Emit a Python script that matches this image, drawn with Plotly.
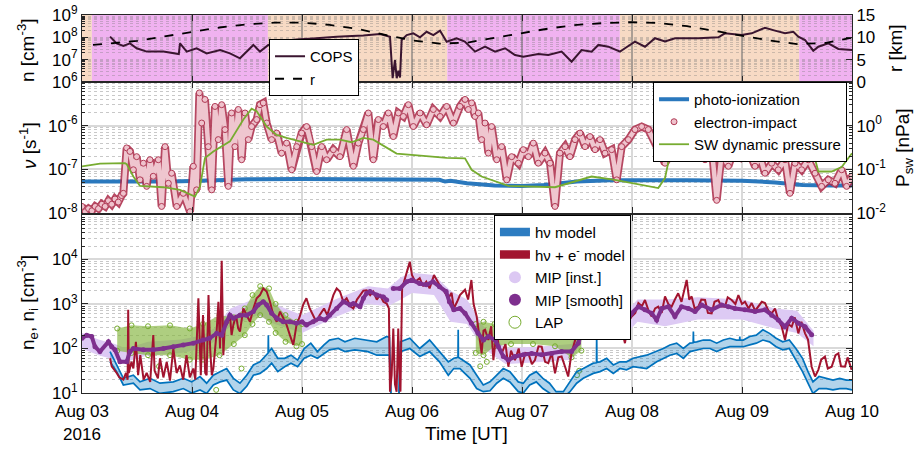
import numpy as np
import plotly.graph_objects as go

FONT = "Liberation Sans, Arial, sans-serif"

# ---------------- time axis (days since 2016-08-03 00:00 UT) ----------------
day_ticks = [0, 1, 2, 3, 4, 5, 6, 7]
day_labels = ["Aug 03<br>2016", "Aug 04", "Aug 05", "Aug 06", "Aug 07", "Aug 08", "Aug 09", "Aug 10"]

# ---------------- top panel: COPS density and distance ----------------
band_edges = [0, 0.09, 1.69, 3.32, 4.89, 6.52, 7.0]
band_kind = ["peach", "pink", "peach", "pink", "peach", "pink"]

cops_t = [0.255, 0.315, 0.376, 0.436, 0.497, 0.588, 0.739, 0.861, 0.88, 0.891, 0.952, 1.042, 1.133, 1.255,
          1.345, 1.436, 1.497, 1.558, 1.618, 1.694, 1.8, 1.95, 2.1, 2.2, 2.315, 2.406, 2.558, 2.709, 2.8,
          2.824, 2.845, 2.861, 2.876, 2.891, 2.906, 2.952, 3.012, 3.073, 3.133, 3.194, 3.255, 3.315, 3.406,
          3.48, 3.573, 3.664, 3.755, 3.846, 3.936, 4.012, 4.148, 4.239, 4.36, 4.451, 4.542, 4.633, 4.694,
          4.785, 4.891, 4.936, 5.027, 5.118, 5.209, 5.3, 5.391, 5.603, 5.785, 5.845, 5.997, 6.088, 6.209,
          6.3, 6.391, 6.467, 6.512, 6.573, 6.648, 6.694, 6.785, 6.876, 6.967, 7.0]
cops_log = [8.03, 7.73, 7.61, 7.73, 7.51, 7.36, 7.36, 7.28, 7.25, 7.73, 7.36, 7.51, 7.28, 7.43,
            7.28, 7.06, 7.36, 7.66, 7.36, 7.66, 7.8, 7.9, 7.95, 8.0, 8.03, 8.05, 8.08, 8.15, 8.03,
            6.17, 6.98, 6.17, 6.5, 6.2, 7.88, 8.1, 8.18, 8.0, 8.25, 8.1, 8.3, 7.8, 7.96,
            7.81, 7.36, 7.58, 7.36, 7.51, 7.21, 7.13, 7.25, 7.21, 7.36, 6.91, 7.43, 7.36, 7.66,
            7.58, 7.36, 7.51, 7.81, 7.58, 7.96, 7.81, 7.96, 7.96, 8.0, 8.18, 8.10, 8.18, 8.43,
            8.30, 8.18, 8.25, 8.03, 7.88, 7.40, 7.58, 7.73, 7.48, 7.43, 7.43]

r_t = [0.1, 0.25, 0.5, 0.75, 1.0, 1.25, 1.5, 1.75, 2.0, 2.25, 2.5, 2.75, 3.0, 3.25, 3.5, 3.75, 4.0,
       4.25, 4.5, 4.75, 5.0, 5.25, 5.5, 5.75, 6.0, 6.25, 6.5, 6.75, 7.0]
r_km = [8.3, 8.6, 9.2, 10.2, 11.2, 12.2, 12.9, 13.3, 13.3, 12.8, 11.9, 10.6, 9.3, 8.6, 8.8, 9.9, 11.0,
        12.0, 12.8, 13.2, 13.4, 13.2, 12.5, 11.4, 10.3, 9.3, 8.5, 8.7, 9.9]

# ---------------- middle panel: ionization frequencies and SW pressure ----------------
photo_t = [0, 0.6, 0.62, 0.8, 1.0, 1.3, 1.5, 2.0, 2.5, 3.0, 3.25, 3.3, 3.35, 3.5, 3.75, 4.0, 4.2, 4.5,
           4.8, 5.5, 6.0, 6.3, 6.55, 6.8, 7.0]
photo_log = [-7.28, -7.28, -7.30, -7.28, -7.27, -7.25, -7.23, -7.22, -7.22, -7.22, -7.24, -7.28, -7.26,
             -7.32, -7.37, -7.38, -7.36, -7.28, -7.25, -7.25, -7.26, -7.30, -7.36, -7.37, -7.37]

ei_t = [0, 0.03, 0.06, 0.09, 0.12, 0.15, 0.18, 0.21, 0.24, 0.27, 0.3, 0.33, 0.36, 0.376, 0.406, 0.436,
        0.467, 0.497, 0.527, 0.558, 0.588, 0.618, 0.648, 0.694, 0.724, 0.755, 0.785, 0.815, 0.861, 0.921,
        0.982, 1.012, 1.042, 1.067, 1.088, 1.118, 1.148, 1.179, 1.209, 1.239, 1.27, 1.3, 1.33, 1.36, 1.39,
        1.421, 1.451, 1.482, 1.512, 1.542, 1.588, 1.618, 1.648, 1.679, 1.724, 1.77, 1.815, 1.86, 1.906,
        1.952, 1.997, 2.042, 2.088, 2.133, 2.179, 2.224, 2.285, 2.345, 2.406, 2.467, 2.512, 2.558, 2.603,
        2.648, 2.694, 2.739, 2.785, 2.83, 2.876, 2.921, 2.967, 3.012, 3.073, 3.133, 3.194, 3.255, 3.315,
        3.376, 3.436, 3.482, 3.512, 3.542, 3.573, 3.603, 3.633, 3.664, 3.694, 3.724, 3.77, 3.815, 3.861,
        3.906, 3.967, 4.012, 4.058, 4.103, 4.148, 4.209, 4.255, 4.3, 4.345, 4.391, 4.436, 4.482, 4.527,
        4.573, 4.618, 4.664, 4.709, 4.755, 4.815, 4.861, 4.906, 4.967, 5.027, 5.088, 5.148, 5.224, 5.3,
        5.376, 5.452, 5.542, 5.603, 5.664, 5.724, 5.77, 5.815, 5.876, 5.936, 5.997, 6.058, 6.118, 6.164,
        6.209, 6.27, 6.33, 6.391, 6.436, 6.482, 6.542, 6.603, 6.664, 6.724, 6.785, 6.845, 6.906, 6.951,
        6.997]
ei_log = [-7.85, -7.97, -7.9, -7.95, -7.85, -7.9, -7.8, -7.85, -7.72, -7.8, -7.68, -7.75, -7.6, -7.55,
          -6.51, -6.59, -7.01, -6.71, -7.24, -6.86, -7.39, -6.78, -7.16, -6.78, -7.85, -6.48, -7.32,
          -7.09, -7.85, -7.55, -7.97, -6.93, -7.47, -5.25, -5.94, -5.40, -6.48, -7.47, -5.56, -6.32,
          -5.52, -6.09, -7.39, -5.71, -6.48, -5.63, -6.78, -5.71, -6.32, -6.02, -5.86, -5.52, -5.48,
          -5.94, -6.32, -6.17, -6.63, -6.40, -7.01, -6.48, -6.17, -6.02, -6.48, -7.05, -6.48, -6.78,
          -6.55, -6.71, -6.09, -6.93, -6.40, -6.09, -5.71, -6.78, -5.86, -6.02, -5.71, -6.25, -5.71,
          -5.79, -5.52, -6.02, -5.71, -5.98, -5.63, -5.79, -5.56, -5.94, -5.56, -5.40, -5.63, -5.48,
          -5.79, -5.71, -6.32, -5.94, -6.63, -6.02, -6.78, -6.48, -7.24, -6.71, -6.86, -6.55, -6.71,
          -6.40, -6.86, -6.63, -6.86, -7.85, -6.63, -6.48, -6.71, -6.32, -6.17, -6.48, -6.25, -6.55,
          -6.32, -6.63, -6.55, -7.24, -6.48, -6.32, -6.09, -6.02, -6.09, -6.48, -6.86, -6.55, -6.40,
          -6.63, -6.48, -6.78, -6.48, -7.71, -6.63, -6.93, -6.48, -6.71, -6.55, -6.93, -6.71, -7.09,
          -6.86, -7.01, -6.78, -7.55, -6.86, -7.01, -6.78, -7.09, -7.39, -7.24, -7.32, -7.01, -7.39,
          -7.16]

sw_t = [0, 0.164, 0.391, 0.406, 0.467, 0.527, 0.739, 0.891, 1.027, 1.073, 1.118, 1.194, 1.345, 1.467,
        1.542, 1.588, 1.679, 1.77, 1.86, 2.103, 2.224, 2.345, 2.45, 2.558, 2.648, 2.77, 2.86, 3.103,
        3.315, 3.482, 3.542, 3.633, 3.876, 4.3, 4.633, 4.845, 5.239, 5.3, 5.36, 5.5, 5.785, 6.118,
        6.148, 6.239, 6.633, 6.694, 6.815, 6.906, 7.0]
sw_log = [-0.935, -0.87, -0.86, -0.88, -1.165, -1.38, -1.41, -1.47, -1.625, -1.39, -0.74, -0.59, -0.36,
          0.14, 0.39, 0.33, -0.02, -0.21, -0.28, -0.44, -0.32, -0.32, -0.38, -0.28, -0.32, -0.51,
          -0.64, -0.69, -0.74, -0.75, -1.01, -1.165, -1.38, -1.41, -1.165, -1.24, -1.43, -1.2, -0.48,
          -0.35, -0.47, -0.47, -0.59, -0.47, -0.47, -1.05, -1.05, -0.95, -0.63]

# ---------------- bottom panel: densities ----------------
hv_t = [0.255, 0.315, 0.376, 0.467, 0.527, 0.618, 0.709, 0.83, 0.921, 0.997, 1.073, 1.133, 1.194, 1.255,
        1.315, 1.376, 1.436, 1.497, 1.558, 1.618, 1.679, 1.692, 1.694, 1.696, 1.724, 1.78, 1.842, 1.9,
        1.96, 2.02, 2.08, 2.14, 2.2, 2.25, 2.33, 2.39, 2.48, 2.6, 2.68, 2.77, 2.795, 2.81, 2.88, 2.895,
        2.98, 3.07, 3.16, 3.25, 3.33, 3.38, 3.418, 3.42, 3.422, 3.436, 3.527, 3.588, 3.648, 3.709, 3.77,
        3.83, 3.89, 3.966, 4.012, 4.07, 4.13, 4.19, 4.25, 4.31, 4.376, 4.436, 4.497, 4.557, 4.648,
        4.677, 4.679, 4.681, 4.709, 4.77, 4.83, 4.89, 4.95, 5.01, 5.133, 5.224, 5.285, 5.345, 5.406,
        5.467, 5.527, 5.556, 5.558, 5.56, 5.588, 5.648, 5.709, 5.77, 5.83, 5.89, 5.95, 5.978, 5.98,
        5.982, 6.012, 6.07, 6.13, 6.19, 6.25, 6.31, 6.37, 6.43, 6.49, 6.55, 6.6, 6.645, 6.7, 6.767,
        6.827, 6.888, 6.948, 7.0]
hv_hi = [1.93, 1.63, 1.33, 1.40, 1.25, 1.33, 1.22, 1.25, 1.33, 1.25, 1.37, 1.22, 1.40, 1.48,
         1.55, 1.33, 1.22, 1.40, 1.63, 1.70, 1.85, 1.90, 2.30, 1.92, 2.00, 1.78, 1.78, 1.85,
         1.74, 2.00, 2.12, 1.93, 2.08, 2.19, 2.23, 2.15, 2.23, 2.19, 2.15, 2.27, 2.25, 0.8, 0.8, 2.15,
         2.23, 2.00, 2.19, 1.93, 1.70, 1.78, 1.80, 2.42, 1.80, 1.78, 1.63, 1.40, 1.18, 1.25, 1.40,
         1.55, 1.48, 1.25, 1.22, 1.40, 1.48, 1.33, 1.22, 1.03, 1.03, 1.25, 1.48, 1.55, 1.67,
         1.68, 2.38, 1.69, 1.70, 1.78, 1.63, 1.70, 1.70, 1.78, 1.85, 1.93, 2.00, 2.08, 2.12,
         2.00, 2.12, 2.13, 2.38, 2.14, 2.15, 2.19, 2.19, 2.12, 2.19, 2.23, 2.19, 2.19, 2.27,
         2.19, 2.19, 2.27, 2.30, 2.42, 2.34, 2.23, 2.15, 2.19, 2.00, 1.78, 1.48, 1.25, 1.37, 1.33,
         1.29, 1.33, 1.29, 1.29]
hv_lo = [1.70, 1.48, 1.18, 1.22, 1.07, 1.10, 0.99, 1.03, 1.10, 1.00, 1.07, 0.99, 1.18, 1.25,
         1.29, 1.07, 0.99, 1.15, 1.40, 1.44, 1.55, 1.58, 1.58, 1.60, 1.67, 1.48, 1.59, 1.67,
         1.59, 1.78, 1.85, 1.78, 1.89, 1.97, 2.00, 1.93, 1.97, 1.93, 1.85, 1.85, 1.85, 0.8, 0.8, 1.93,
         2.00, 1.82, 1.93, 1.70, 1.40, 1.55, 1.56, 1.56, 1.56, 1.55, 1.33, 1.10, 1.03, 1.05, 1.22,
         1.33, 1.25, 1.03, 1.00, 1.18, 1.25, 1.10, 1.00, 0.90, 0.90, 1.03, 1.22, 1.33, 1.44,
         1.46, 1.46, 1.47, 1.48, 1.55, 1.44, 1.55, 1.52, 1.59, 1.55, 1.70, 1.78, 1.85, 1.89,
         1.78, 1.93, 1.95, 1.95, 1.95, 1.97, 2.00, 2.00, 1.93, 2.00, 2.04, 2.04, 2.04, 2.04,
         2.04, 2.04, 2.08, 2.12, 2.19, 2.15, 2.04, 1.97, 2.00, 1.74, 1.48, 1.22, 0.99, 1.10, 1.10,
         1.07, 1.10, 1.10, 1.07]

hve_t = [0.255, 0.27, 0.315, 0.34, 0.376, 0.40, 0.415, 0.42, 0.425, 0.45, 0.467, 0.49, 0.51, 0.53, 0.56,
         0.588, 0.62, 0.648, 0.66, 0.69, 0.709, 0.74, 0.77, 0.80, 0.83, 0.86, 0.89, 0.92, 0.95, 0.98,
         1.012, 1.03, 1.058, 1.07, 1.08, 1.1, 1.12, 1.133, 1.15, 1.165, 1.18, 1.194, 1.224, 1.24,
         1.255, 1.27, 1.28, 1.285, 1.3, 1.315, 1.345, 1.36, 1.376, 1.4, 1.42, 1.436, 1.467, 1.497,
         1.527, 1.558, 1.588, 1.618, 1.648, 1.679, 1.709, 1.739, 1.77, 1.8, 1.83, 1.86, 1.89, 1.921,
         1.95, 1.98, 2.01, 2.04, 2.07, 2.1, 2.13, 2.16, 2.2, 2.23, 2.25, 2.285, 2.315, 2.345, 2.376,
         2.406, 2.44, 2.467, 2.5, 2.527, 2.558, 2.588, 2.62, 2.648, 2.68, 2.709, 2.74, 2.77, 2.79, 2.8,
         2.815, 2.83, 2.845, 2.86, 2.875, 2.885, 2.895, 2.91, 2.95, 2.98, 3.0, 3.03, 3.07, 3.10, 3.13,
         3.16, 3.2, 3.25, 3.29, 3.33, 3.36, 3.38, 3.41, 3.436, 3.482, 3.51, 3.54, 3.56, 3.588, 3.61,
         3.633, 3.65, 3.664, 3.694, 3.72, 3.74, 3.77, 3.79, 3.815, 3.85, 3.876, 3.90, 3.936, 3.97,
         3.997, 4.03, 4.058, 4.09, 4.118, 4.15, 4.179, 4.21, 4.239, 4.27, 4.3, 4.33, 4.36, 4.39, 4.42,
         4.45, 4.482, 4.527, 4.55, 4.573, 4.60, 4.633, 4.66, 4.694, 4.72, 4.755, 4.785, 4.815, 4.85,
         4.876, 4.9, 4.936, 4.967, 4.997, 5.03, 5.058, 5.09, 5.118, 5.15, 5.179, 5.21, 5.239, 5.27,
         5.3, 5.33, 5.36, 5.39, 5.42, 5.45, 5.497, 5.52, 5.542, 5.57, 5.603, 5.63, 5.664, 5.69, 5.724,
         5.75, 5.785, 5.81, 5.845, 5.87, 5.906, 5.94, 5.967, 6.0, 6.027, 6.06, 6.088, 6.12, 6.148,
         6.18, 6.209, 6.24, 6.27, 6.30, 6.33, 6.36, 6.391, 6.42, 6.452, 6.48, 6.512, 6.54, 6.573, 6.6,
         6.633, 6.664, 6.694, 6.72, 6.754, 6.78, 6.815, 6.85, 6.876, 6.90, 6.936, 6.96, 6.997]
hve_log = [1.78, 1.60, 1.45, 1.35, 1.30, 1.45, 1.30, 2.87, 1.45, 1.70, 1.55, 2.15, 1.40, 1.85, 1.30,
           1.45, 1.25, 2.30, 1.50, 1.33, 1.78, 1.35, 1.70, 1.28, 2.00, 1.45, 1.62, 1.30, 1.85, 1.35,
           1.55, 1.30, 3.13, 2.10, 1.40, 2.75, 1.45, 1.40, 3.20, 2.0, 1.40, 1.55, 2.38, 3.05,
           2.0, 3.97, 2.0, 1.85, 2.60, 2.53, 2.75, 2.30, 2.53, 2.75, 2.45, 2.38, 2.90, 2.75,
           2.60, 2.90, 3.13, 3.20, 3.35, 3.28, 3.05, 2.75, 2.60, 2.83, 2.68, 2.53, 2.30, 2.08,
           2.53, 2.72, 2.98, 3.13, 2.90, 2.75, 2.60, 2.75, 2.90, 2.75, 2.90, 3.20, 3.35, 3.28, 3.05,
           3.13, 2.95, 2.90, 3.1, 3.20, 3.30, 3.31, 3.2, 3.28, 3.1, 3.20, 3.05, 3.01, 2.9, 1.03,
           1.4, 2.45, 1.2, 1.03, 2.45, 1.5, 1.03, 3.35, 3.73, 3.95, 3.65, 3.5, 3.58, 3.4, 3.50,
           3.35, 3.65, 3.43, 3.3, 3.13, 3.25, 2.90, 3.05, 3.20, 3.32, 3.1, 3.54, 3.0, 2.72, 2.3,
           1.89, 2.4, 2.42, 2.19, 2.5, 1.74, 2.42, 2.0, 1.89, 2.1, 1.59, 1.95, 1.74, 2.0,
           1.59, 1.9, 1.89, 1.65, 1.74, 2.05, 2.04, 1.7, 1.67, 1.9, 1.44, 1.8, 1.82, 1.6, 1.37,
           1.9, 2.19, 2.57, 2.4, 2.64, 2.45, 2.49, 2.7, 2.57, 2.35, 2.34, 2.6, 2.64, 2.4,
           2.34, 2.5, 2.12, 2.6, 2.72, 2.8, 3.02, 2.95, 3.09, 2.85, 2.72, 2.9, 2.94, 2.8,
           3.17, 3.0, 2.94, 3.1, 3.24, 3.05, 3.54, 3.1, 3.17, 2.9, 2.94, 3.1, 3.09, 2.8, 2.79,
           3.05, 3.09, 2.95, 2.94, 3.15, 3.09, 3.0, 3.2, 3.0, 3.05, 2.9, 3.02, 2.85, 2.94,
           3.05, 3.02, 2.85, 2.79, 2.9, 2.64, 2.5, 2.19, 2.55, 2.49, 2.7, 2.34, 2.6, 2.34, 2.2,
           1.59, 1.37, 1.52, 1.75, 1.82, 1.55, 1.59, 1.85, 1.89, 1.6, 1.59, 1.8, 1.52]

mip_t = [0.0, 0.042, 0.088, 0.118, 0.163, 0.24, 0.27, 0.3, 0.345, 0.406, 0.436, 0.467, 0.558, 0.648,
         0.739, 0.83, 0.92, 1.012, 1.1, 1.16, 1.224, 1.27, 1.315, 1.345, 1.376, 1.436, 1.497, 1.558,
         1.6, 1.648, 1.679, 1.724, 1.77, 1.83, 1.89, 1.95, 2.0, 2.04, 2.1, 2.16, 2.21, 2.25, 2.315,
         2.376, 2.436, 2.467, 2.527, 2.558, 2.588, 2.618, 2.68, 2.74, 2.77, 2.80, 2.83, 2.89, 2.95, 3.0,
         3.07, 3.13, 3.19, 3.25, 3.31, 3.34, 3.38, 3.436, 3.482, 3.54, 3.6, 3.65, 3.694, 3.755, 3.785,
         3.83, 3.876, 3.936, 4.012, 4.088, 4.179, 4.27, 4.36, 4.45, 4.512, 4.542, 4.603, 4.694, 4.755,
         4.845, 4.936, 4.997, 5.058, 5.118, 5.179, 5.224, 5.27, 5.33, 5.39, 5.45, 5.512, 5.573, 5.633,
         5.724, 5.815, 5.876, 5.936, 6.027, 6.118, 6.209, 6.27, 6.33, 6.39, 6.452, 6.512, 6.573, 6.633]
mip_log = [2.23, 2.30, 2.27, 2.04, 1.93, 2.15, 2.04, 1.97, 1.70, 1.70, 1.93, 2.00, 1.97, 1.97,
           2.00, 2.04, 2.08, 2.12, 2.19, 2.23, 2.34, 2.30, 2.60, 2.75, 2.68, 2.75, 2.75, 2.83,
           2.98, 3.05, 2.98, 2.79, 2.68, 2.60, 2.60, 2.57, 2.60, 2.53, 2.60, 2.68, 2.64, 2.75, 2.90,
           3.05, 2.98, 3.01, 2.94, 3.13, 3.24, 3.28, 3.20, 3.16, 3.09, None, 3.35, 3.35, 3.50, 3.54,
           3.46, 3.43, 3.50, 3.39, 3.28, 3.05, 2.87, 2.90, 2.79, 2.57, 2.34, 2.19, 2.27, 2.19, 2.04,
           1.82, 1.74, 1.82, 1.86, 1.89, 1.86, 1.89, 1.93, 1.93, 2.12, 2.42, 2.45, 2.38, 2.49,
           2.42, 2.53, 2.79, 2.94, 2.87, 2.79, 2.64, 2.90, 2.94, 2.72, 2.94, 2.90, 2.83, 2.98,
           2.87, 2.98, 2.94, 2.90, 2.87, 2.83, 2.87, 2.75, 2.64, 2.49, 2.68, 2.57, 2.49, 2.31]

mipi_t = [0.0, 0.15, 0.3, 0.4, 0.6, 0.9, 1.1, 1.2, 1.35, 1.6, 1.75, 2.0, 2.3, 2.6, 2.78, 2.9, 3.0, 3.2,
          3.35, 3.5, 3.65, 3.85, 4.2, 4.45, 4.55, 4.9, 5.05, 5.3, 5.6, 6.0, 6.3, 6.5, 6.65]
mipi_hi = [2.35, 2.2, 2.1, 2.0, 2.15, 2.2, 2.3, 2.45, 2.9, 3.15, 3.0, 2.75, 3.1, 3.4, 3.35, 3.6, 3.7,
           3.65, 3.3, 3.1, 2.5, 2.0, 2.05, 2.1, 2.7, 2.7, 3.1, 3.1, 3.15, 3.1, 2.9, 2.85, 2.4]
mipi_lo = [2.0, 1.85, 1.75, 1.7, 1.85, 1.9, 2.0, 2.15, 2.5, 2.75, 2.55, 2.35, 2.7, 3.0, 2.95, 3.1, 3.25,
           3.2, 2.6, 2.55, 2.0, 1.65, 1.7, 1.75, 2.2, 2.2, 2.6, 2.5, 2.65, 2.65, 2.45, 2.35, 2.05]

lap1_t = [0.32, 0.45, 0.6, 0.8, 0.98, 1.1, 1.25, 1.38, 1.48, 1.55, 1.62, 1.7, 1.76, 1.85, 1.95, 2.0]
lap1_hi = [2.45, 2.52, 2.5, 2.52, 2.45, 2.55, 2.75, 2.7, 2.9, 3.2, 3.4, 3.35, 3.0, 2.75, 2.6, 2.55]
lap1_lo = [1.95, 1.9, 1.85, 1.85, 1.75, 1.75, 1.85, 2.1, 2.3, 2.55, 2.75, 2.6, 2.35, 2.15, 2.05, 2.1]
lap2_t = [3.58, 3.65, 3.75, 3.9, 4.1, 4.3, 4.45, 4.54]
lap2_hi = [2.55, 2.6, 2.55, 2.52, 2.55, 2.55, 2.5, 2.55]
lap2_lo = [1.9, 1.85, 2.05, 2.1, 2.1, 2.05, 1.8, 1.95]
lap_out_t = [0.7, 1.22, 1.45, 3.62, 3.68, 4.5, 4.52]
lap_out_log = [1.6, 1.07, 1.55, 1.6, 1.7, 1.4, 1.5]


def pw(a):
    return [None if v is None else 10 ** v for v in a]


C_BLUE = "#0072BD"
C_RED = "#A2142F"
C_GREEN = "#77AC30"
C_PURPLE = "#7E2F8E"

fig = go.Figure()

# ---- top panel
band_col = {"pink": "#f0b2f0", "peach": "#f7dac4"}
for i, k in enumerate(band_kind):
    fig.add_shape(type="rect", xref="x", yref="y domain", x0=band_edges[i], x1=band_edges[i + 1],
                  y0=0, y1=1, fillcolor=band_col[k], line_width=0, layer="below")

fig.add_trace(go.Scatter(x=cops_t, y=pw(cops_log), mode="lines", name="COPS",
                         line=dict(color="#3a1530", width=2), xaxis="x", yaxis="y", legend="legend"))
fig.add_trace(go.Scatter(x=r_t, y=r_km, mode="lines", name="r",
                         line=dict(color="black", width=1.8, dash="dash"), xaxis="x", yaxis="y2",
                         legend="legend"))

# ---- middle panel
fig.add_trace(go.Scatter(x=photo_t, y=pw(photo_log), mode="lines", name="photo-ionization",
                         line=dict(color="#2a78bd", width=4), xaxis="x2", yaxis="y3", legend="legend2"))
fig.add_trace(go.Scatter(x=ei_t, y=pw(ei_log), mode="lines", showlegend=False, hoverinfo="skip",
                         line=dict(color="rgba(170,40,70,0.85)", width=8), xaxis="x2", yaxis="y3"))
fig.add_trace(go.Scatter(x=ei_t, y=pw(ei_log), mode="lines", showlegend=False, hoverinfo="skip",
                         line=dict(color="#efc6cf", width=4.5), xaxis="x2", yaxis="y3"))
fig.add_trace(go.Scatter(x=ei_t, y=pw(ei_log), mode="markers", name="electron-impact",
                         marker=dict(symbol="circle", size=6, color="#efc2cc",
                                     line=dict(color="#b03a55", width=1)),
                         xaxis="x2", yaxis="y3", legend="legend2"))
fig.add_trace(go.Scatter(x=sw_t, y=pw(sw_log), mode="lines", name="SW dynamic pressure",
                         line=dict(color=C_GREEN, width=1.8), xaxis="x2", yaxis="y4", legend="legend2"))

# ---- bottom panel
fig.add_trace(go.Scatter(x=mipi_t + mipi_t[::-1], y=pw(mipi_hi + mipi_lo[::-1]), mode="lines",
                         fill="toself", fillcolor="#ddcaf4", line=dict(width=0, color="#ddcaf4"),
                         showlegend=False, hoverinfo="skip", xaxis="x3", yaxis="y5"))
for lt, lh, ll in [(lap1_t, lap1_hi, lap1_lo), (lap2_t, lap2_hi, lap2_lo)]:
    fig.add_trace(go.Scatter(x=lt + lt[::-1], y=pw(lh + ll[::-1]), mode="lines+markers", fill="toself",
                             fillcolor="rgba(130,180,60,0.65)", line=dict(width=0, color=C_GREEN),
                             marker=dict(symbol="circle-open", size=5, color=C_GREEN),
                             showlegend=False, hoverinfo="skip", xaxis="x3", yaxis="y5"))
fig.add_trace(go.Scatter(x=lap_out_t, y=pw(lap_out_log), mode="markers", showlegend=False,
                         marker=dict(symbol="circle-open", size=5, color=C_GREEN), xaxis="x3", yaxis="y5"))

fig.add_trace(go.Scatter(x=hv_t + hv_t[::-1], y=pw(hv_hi + hv_lo[::-1]), mode="lines", fill="toself",
                         fillcolor="rgba(0,114,189,0.30)", line=dict(width=0), showlegend=False,
                         hoverinfo="skip", xaxis="x3", yaxis="y5"))
fig.add_trace(go.Scatter(x=hv_t, y=pw(hv_hi), mode="lines", line=dict(color=C_BLUE, width=1.7),
                         showlegend=False, xaxis="x3", yaxis="y5"))
fig.add_trace(go.Scatter(x=hv_t, y=pw(hv_lo), mode="lines", line=dict(color=C_BLUE, width=1.7),
                         showlegend=False, xaxis="x3", yaxis="y5"))
fig.add_trace(go.Scatter(x=hve_t, y=pw(hve_log), mode="lines", line=dict(color=C_RED, width=2),
                         showlegend=False, xaxis="x3", yaxis="y5"))
fig.add_trace(go.Scatter(x=mip_t, y=pw(mip_log), mode="lines+markers", connectgaps=False,
                         line=dict(color=C_PURPLE, width=4), marker=dict(size=5, color=C_PURPLE),
                         showlegend=False, xaxis="x3", yaxis="y5"))

# legend-only entries for the bottom panel
fig.add_trace(go.Scatter(x=[None], y=[None], mode="lines", fill="toself", fillcolor="#2d7cc1",
                         line=dict(color="#2d7cc1", width=1), name="h\u03bd model",
                         xaxis="x3", yaxis="y5", legend="legend3"))
fig.add_trace(go.Scatter(x=[None], y=[None], mode="lines", fill="toself", fillcolor=C_RED,
                         line=dict(color=C_RED, width=1), name="h\u03bd + e<sup>-</sup> model",
                         xaxis="x3", yaxis="y5", legend="legend3"))
fig.add_trace(go.Scatter(x=[None], y=[None], mode="markers", name="MIP [inst.]",
                         marker=dict(size=6, color="#dcc8f3"), xaxis="x3", yaxis="y5", legend="legend3"))
fig.add_trace(go.Scatter(x=[None], y=[None], mode="markers", name="MIP [smooth]",
                         marker=dict(size=6, color=C_PURPLE), xaxis="x3", yaxis="y5", legend="legend3"))
fig.add_trace(go.Scatter(x=[None], y=[None], mode="markers", name="LAP",
                         marker=dict(symbol="circle-open", size=5, color=C_GREEN),
                         xaxis="x3", yaxis="y5", legend="legend3"))

# ---------------- layout ----------------
H_TOP = [0.8228, 1.0]
H_MID = [0.4762, 0.8228]
H_BOT = [0.0, 0.4709]
AX = dict(showline=True, linecolor="#262626", linewidth=1, ticks="inside", tickcolor="#262626",
          automargin=False, tickfont=dict(size=17, color="black", family=FONT))


def xax(anchor, labels, gridcolor):
    d = dict(AX, domain=[0, 1], range=[0, 7], anchor=anchor, tickmode="array", tickvals=day_ticks,
             ticktext=day_labels, showticklabels=labels, ticklen=6, mirror="ticks",
             showgrid=True, gridcolor=gridcolor, gridwidth=1.5, zeroline=False)
    return d


def logminor(gc):
    return dict(ticks="inside", ticklen=3, tickcolor="#262626", dtick="D1", showgrid=True,
                gridcolor=gc, griddash="dot", gridwidth=1)


LEG = dict(xanchor="left", yanchor="top", bgcolor="white", bordercolor="black", borderwidth=1,
           font=dict(size=15, family=FONT, color="black"), itemwidth=30, tracegroupgap=0)

x3 = xax("y5", True, "#d9d9d9")
x3["ticklabelstandoff"] = 3

fig.update_layout(
    width=923, height=449, margin=dict(l=82, r=71, t=15, b=56, autoexpand=False),
    paper_bgcolor="white", plot_bgcolor="white", font=dict(family=FONT, color="black"),
    xaxis=xax("y", False, "rgba(110,110,110,0.55)"),
    xaxis2=xax("y3", False, "#d9d9d9"),
    xaxis3=x3,
    yaxis=dict(AX, domain=H_TOP, type="log", range=[6, 9], anchor="x", tickmode="array",
               tickvals=[1e6, 1e7, 1e8, 1e9],
               ticktext=["10<sup>6</sup>", "10<sup>7</sup>", "10<sup>8</sup>", "10<sup>9</sup>"],
               ticklen=6, mirror=True, showgrid=False, minor=logminor("rgba(120,120,120,0.35)")),
    yaxis2=dict(AX, overlaying="y", side="right", anchor="x", range=[0, 15], tickmode="array",
                tickvals=[0, 5, 10, 15], ticktext=["0", "5", "10", "15"], ticklen=6, showgrid=False,
                zeroline=False),
    yaxis3=dict(AX, domain=H_MID, type="log", range=[-8, -5], anchor="x2", tickmode="array",
                tickvals=[1e-8, 1e-7, 1e-6],
                ticktext=["10<sup>-8</sup>", "10<sup>-7</sup>", "10<sup>-6</sup>"],
                ticklen=6, mirror=True, showgrid=True, gridcolor="#d9d9d9", gridwidth=1.5,
                minor=logminor("#c8c8c8")),
    yaxis4=dict(AX, overlaying="y3", side="right", anchor="x2", type="log", range=[-2, 1],
                tickmode="array", tickvals=[0.01, 0.1, 1],
                ticktext=["10<sup>-2</sup>", "10<sup>-1</sup>", "10<sup>0</sup>"],
                ticklen=6, showgrid=False, minor=dict(ticks="inside", ticklen=3, dtick="D1",
                                                      tickcolor="#262626")),
    yaxis5=dict(AX, domain=H_BOT, type="log", range=[1, 5], anchor="x3", tickmode="array",
                tickvals=[1e1, 1e2, 1e3, 1e4],
                ticktext=["10<sup>1</sup>", "10<sup>2</sup>", "10<sup>3</sup>", "10<sup>4</sup>"],
                ticklen=6, mirror="ticks", showgrid=True, gridcolor="#d9d9d9", gridwidth=1.5,
                minor=logminor("#c8c8c8")),
    legend=dict(LEG, x=0.2429, y=0.9365),
    legend2=dict(LEG, x=0.7416, y=0.8228),
    legend3=dict(LEG, x=0.535, y=0.4709, itemsizing="constant"),
)


def px2paper(px, py):
    return (px - 82) / 770, (393 - py) / 378


titles = [
    ("n [cm<sup>-3</sup>]", 26, 50, -90),
    ("<i>\u03bd</i> [s<sup>-1</sup>]", 28, 146, -90),
    ("n<sub>e</sub>, n<sub>i</sub> [cm<sup>-3</sup>]", 27, 303, -90),
    ("r [km]", 895, 48, -90),
    ("P<sub>sw</sub> [nPa]", 904, 148, -90),
    ("Time [UT]", 466, 434, 0),
]
for txt, px, py, ang in titles:
    xp, yp = px2paper(px, py)
    fig.add_annotation(text=txt, x=xp, y=yp, xref="paper", yref="paper", showarrow=False,
                       textangle=ang, xanchor="center", yanchor="middle",
                       font=dict(size=19, family=FONT, color="black"))

fig.write_html("out.html", config={"displayModeBar": False},
               post_script="document.body.style.margin='0';document.body.style.overflow='hidden';")
